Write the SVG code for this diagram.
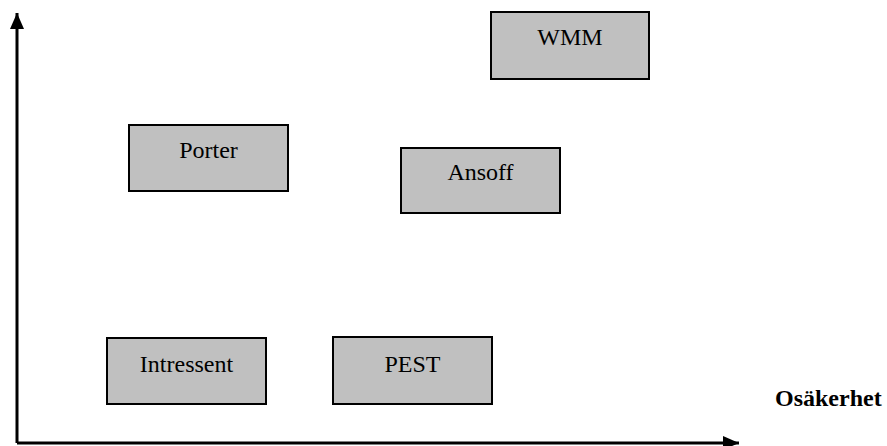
<svg xmlns="http://www.w3.org/2000/svg" width="887" height="446" viewBox="0 0 887 446">
  <style>
    .box rect { fill: #c0c0c0; stroke: #000; stroke-width: 2; }
    .box text, .label { font-family: "Liberation Serif", "Times New Roman", serif; font-size: 24px; fill: #000; }
    .box text { text-anchor: middle; }
    .label { font-weight: bold; }
    .axis { stroke: #000; stroke-width: 3; fill: none; }
  </style>
  <defs>
    <marker id="arrow" viewBox="0 0 16 14" refX="16" refY="7" markerWidth="16" markerHeight="14" markerUnits="userSpaceOnUse" orient="auto">
      <path d="M0,0 L16,7 L0,14 Z" fill="#000"/>
    </marker>
  </defs>

  <!-- axes -->
  <g id="connectors">
    <path class="axis" d="M17,443 L17,13" marker-end="url(#arrow)"/>
    <path class="axis" d="M17,443 L739,443" marker-end="url(#arrow)"/>
  </g>

  <g id="wmm" class="box">
    <rect x="491" y="12" width="158" height="67"/>
    <text x="570" y="45" font-family="Liberation Serif">WMM</text>
  </g>
  <g id="porter" class="box">
    <rect x="129" y="125" width="159" height="66"/>
    <text x="208.5" y="158" font-family="Liberation Serif">Porter</text>
  </g>
  <g id="ansoff" class="box">
    <rect x="401" y="148" width="159" height="65"/>
    <text x="480.5" y="180" font-family="Liberation Serif">Ansoff</text>
  </g>
  <g id="intressent" class="box">
    <rect x="107" y="338" width="159" height="66"/>
    <text x="186.5" y="372" font-family="Liberation Serif">Intressent</text>
  </g>
  <g id="pest" class="box">
    <rect x="333" y="337" width="159" height="67"/>
    <text x="412.5" y="372" font-family="Liberation Serif">PEST</text>
  </g>

  <text class="label" x="775" y="406" font-family="Liberation Serif">Osäkerhet</text>
</svg>
